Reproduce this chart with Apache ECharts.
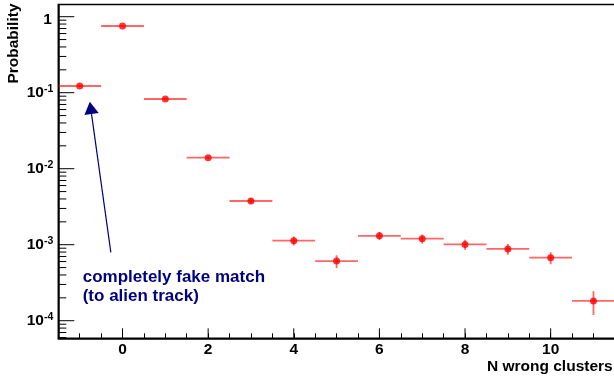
<!DOCTYPE html>
<html><head><meta charset="utf-8">
<script src="https://cdn.jsdelivr.net/npm/echarts@6/dist/echarts.min.js"></script>
<style>html,body{margin:0;padding:0;background:#fff}#c{width:614px;height:380px}</style>
</head><body><div id="c"></div>
<script>
// ---- data ----
const nWrong = [-1, 0, 1, 2, 3, 4, 5, 6, 7, 8, 9, 10, 11];
const probability = [0.1225, 0.7545, 0.0826, 0.01395, 0.00376, 0.00113, 0.00061, 0.00131, 0.0012, 0.00101, 0.00088, 0.000675, 0.000182];
const probErr = [0.0017, 0.0041, 0.0014, 0.00056, 0.00029, 0.00015, 0.000115, 0.00016, 0.000165, 0.00015, 0.00014, 0.00012, 0.000063];
const binHalfWidth = 0.5;
const xTickMajor = [0, 2, 4, 6, 8, 10, 12];
const yTickMajor = [1e-4, 1e-3, 1e-2, 1e-1, 1];
const yTickMinor = [6e-5, 7e-5, 8e-5, 9e-5,
  2e-4, 3e-4, 4e-4, 5e-4, 6e-4, 7e-4, 8e-4, 9e-4,
  2e-3, 3e-3, 4e-3, 5e-3, 6e-3, 7e-3, 8e-3, 9e-3,
  2e-2, 3e-2, 4e-2, 5e-2, 6e-2, 7e-2, 8e-2, 9e-2,
  0.2, 0.3, 0.4, 0.5, 0.6, 0.7, 0.8, 0.9];
const xTitle = 'N wrong clusters';
const yTitle = 'Probability';
const annotationLines = ['completely fake match', '(to alien track)'];
const arrowTail = [-0.273, 7.94e-4];
const arrowTip = [-0.764, 0.0761];

const FONT = '"Liberation Sans", Arial, Helvetica, sans-serif';
const X_MIN = -1.5, X_MAX = 12.5, Y_MIN = 5.87e-5, Y_MAX = 1.447;

const chart = echarts.init(document.getElementById('c'), null, {renderer: 'canvas'});

function yTick(len) {
  return function (params, api) {
    const cs = params.coordSys;
    const y = api.coord([0, api.value(1)])[1];
    return {type: 'line', shape: {x1: cs.x, y1: y, x2: cs.x + len, y2: y},
      style: {stroke: '#000', lineWidth: 1}};
  };
}
function xTick(len) {
  return function (params, api) {
    const cs = params.coordSys;
    const x = api.coord([api.value(0), 1e-3])[0];
    const yb = cs.y + cs.height;
    return {type: 'line', shape: {x1: x, y1: yb, x2: x, y2: yb - len},
      style: {stroke: '#000', lineWidth: 1}};
  };
}

const option = {
  animation: false,
  backgroundColor: '#fff',
  grid: {left: 58.3, top: 4.5, bottom: 41.7, right: -43.7, show: true,
    borderColor: '#000', borderWidth: 1.5, containLabel: false, outerBoundsMode: 'none'},
  xAxis: {
    type: 'value', min: X_MIN, max: X_MAX, interval: 0.5,
    splitLine: {show: false},
    axisLine: {show: true, onZero: false, lineStyle: {color: '#000', width: 1.5}},
    axisTick: {show: true, inside: true, length: 5, lineStyle: {color: '#000', width: 1}},
    axisLabel: {
      margin: 3, color: '#000', fontFamily: FONT, fontWeight: 'bold', fontSize: 15.5,
      formatter: function (v) {
        const r = Math.round(v);
        if (Math.abs(v - r) < 1e-9 && r % 2 === 0 && r >= 0 && r <= 10) return String(r);
        return '';
      }
    }
  },
  yAxis: {
    type: 'log', min: Y_MIN, max: Y_MAX, logBase: 10,
    splitLine: {show: false},
    axisLine: {show: true, onZero: false, lineStyle: {color: '#000', width: 1.5}},
    axisTick: {show: false},
    axisLabel: {
      margin: 5, color: '#000', showMinLabel: false, showMaxLabel: false,
      formatter: function (v) {
        const lg = Math.log10(v);
        const e = Math.round(lg);
        if (Math.abs(lg - e) > 1e-6) return '';
        if (e === 0) return '{one|1}';
        return '{b|10}{s|' + e + '}';
      },
      rich: {
        one: {fontFamily: FONT, fontWeight: 'bold', fontSize: 15.5, color: '#000', padding: [6, 1.5, 0, 0]},
        b: {fontFamily: FONT, fontWeight: 'bold', fontSize: 15.5, color: '#000', lineHeight: 18, verticalAlign: 'middle'},
        s: {fontFamily: FONT, fontWeight: 'bold', fontSize: 10.5, color: '#000', lineHeight: 18, verticalAlign: 'top'}
      }
    }
  },
  series: [
    {type: 'custom', name: 'yMajor', coordinateSystem: 'cartesian2d', silent: true, clip: false,
      data: yTickMajor.map(v => [0, v]), renderItem: yTick(16), z: 3},
    {type: 'custom', name: 'yMinor', coordinateSystem: 'cartesian2d', silent: true, clip: false,
      data: yTickMinor.map(v => [0, v]), renderItem: yTick(8), z: 3},
    {type: 'custom', name: 'xMajor', coordinateSystem: 'cartesian2d', silent: true, clip: false,
      data: xTickMajor.map(v => [v, 1e-3]), renderItem: xTick(10), z: 3},
    {type: 'custom', name: 'errors', coordinateSystem: 'cartesian2d', silent: true, clip: true,
      data: nWrong.map((x, i) => [x, probability[i], probErr[i]]),
      renderItem: function (params, api) {
        const x = api.value(0), y = api.value(1), e = api.value(2);
        const l = api.coord([x - binHalfWidth, y]);
        const r = api.coord([x + binHalfWidth, y]);
        const t = api.coord([x, y + e]);
        const b = api.coord([x, y - e]);
        const st = {stroke: 'rgba(255,0,0,0.6)', lineWidth: 1.8};
        return {type: 'group', children: [
          {type: 'line', shape: {x1: l[0], y1: l[1], x2: r[0], y2: r[1]}, style: st},
          {type: 'line', shape: {x1: t[0], y1: t[1], x2: b[0], y2: b[1]}, style: st}
        ]};
      }, z: 4},
    {type: 'scatter', name: 'probability', symbol: 'circle', symbolSize: 7,
      itemStyle: {color: '#ff0000'}, data: nWrong.map((x, i) => [x, probability[i]]), z: 5},
    {type: 'custom', name: 'arrow', coordinateSystem: 'cartesian2d', silent: true, clip: false,
      data: [[arrowTail[0], arrowTail[1], arrowTip[0], arrowTip[1]]],
      renderItem: function (params, api) {
        const p0 = api.coord([api.value(0), api.value(1)]);
        const p1 = api.coord([api.value(2), api.value(3)]);
        const dx = p1[0] - p0[0], dy = p1[1] - p0[1];
        const L = Math.sqrt(dx * dx + dy * dy);
        const ux = dx / L, uy = dy / L;
        const hl = 12.5, hw = 7.2;
        const bx = p1[0] - ux * hl, by = p1[1] - uy * hl;
        return {type: 'group', children: [
          {type: 'line', shape: {x1: p0[0], y1: p0[1], x2: bx, y2: by}, style: {stroke: '#000080', lineWidth: 1.2}},
          {type: 'polygon', shape: {points: [[p1[0], p1[1]], [bx - uy * hw, by + ux * hw], [bx + uy * hw, by - ux * hw]]},
            style: {fill: '#000080'}}
        ]};
      }, z: 6}
  ],
  graphic: [
    {type: 'text', x: 612.7, y: 367, style: {text: xTitle, align: 'right', verticalAlign: 'middle',
      font: 'bold 15.5px ' + FONT, fill: '#000'}},
    {type: 'text', x: 14, y: 3.5, rotation: Math.PI / 2, style: {text: yTitle, align: 'right', verticalAlign: 'middle',
      font: 'bold 15.5px ' + FONT, fill: '#000'}},
    {type: 'text', x: 82.7, y: 277, style: {text: annotationLines[0], align: 'left', verticalAlign: 'middle',
      font: 'bold 17px ' + FONT, fill: '#000080'}},
    {type: 'text', x: 82.7, y: 296.5, style: {text: annotationLines[1], align: 'left', verticalAlign: 'middle',
      font: 'bold 17px ' + FONT, fill: '#000080'}}
  ]
};
chart.setOption(option);
</script>
</body></html>
